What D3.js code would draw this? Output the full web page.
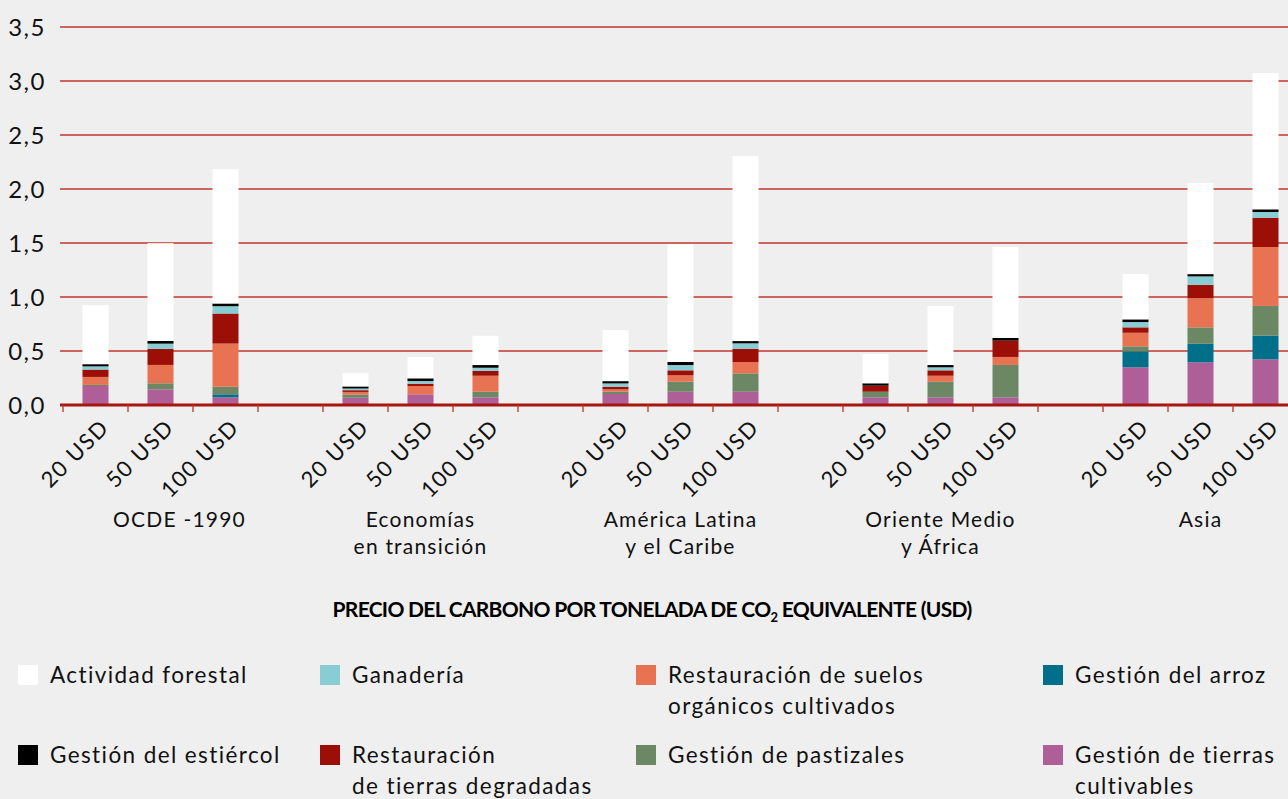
<html>
<head>
    <script src="https://d3js.org/d3.v7.min.js"></script>
    <style>
        body { margin: 0; background: #efefef; }
        svg { display: block; font-family: Lato, "Open Sans", sans-serif; }
    </style>
</head>
<body>
    <svg id="chart" width="1288" height="799"></svg>
    <script>
        // regions and carbon prices (one bar per region x price)
        const regions = ["OCDE -1990", "Economías|en transición", "América Latina|y el Caribe", "Oriente Medio|y África", "Asia"];
        const prices = ["20 USD", "50 USD", "100 USD"];
        const yTicks = [0, 0.5, 1, 1.5, 2, 2.5, 3, 3.5];

        // series values, order: region by region, 20 / 50 / 100 USD
        const tierrasCultivables = [0.176, 0.145, 0.071, 0.068, 0.099, 0.071, 0.102, 0.123, 0.123, 0.071, 0.071, 0.071, 0.349, 0.395, 0.423];
        const arroz = [0, 0, 0.028, 0, 0, 0, 0, 0, 0, 0, 0, 0, 0.148, 0.172, 0.219];
        const pastizales = [0.01, 0.056, 0.07, 0.028, 0, 0.052, 0.021, 0.093, 0.17, 0.052, 0.144, 0.30, 0.046, 0.152, 0.275];
        const suelosOrganicos = [0.074, 0.17, 0.40, 0.025, 0.077, 0.148, 0.022, 0.059, 0.105, 0, 0.056, 0.074, 0.126, 0.271, 0.546];
        const tierrasDegradadas = [0.068, 0.148, 0.278, 0.016, 0.021, 0.046, 0.024, 0.046, 0.123, 0.056, 0.05, 0.151, 0.05, 0.123, 0.271];
        const ganaderia = [0.03, 0.049, 0.068, 0.016, 0.025, 0.028, 0.031, 0.049, 0.05, 0, 0.028, 0, 0.049, 0.078, 0.053];
        const estiercol = [0.02, 0.025, 0.025, 0.019, 0.025, 0.025, 0.021, 0.028, 0.021, 0.022, 0.021, 0.025, 0.025, 0.021, 0.025];
        const forestal = [0.546, 0.905, 1.244, 0.123, 0.197, 0.271, 0.472, 1.092, 1.715, 0.271, 0.546, 0.843, 0.419, 0.843, 1.262];

        const series = [
            {key: "tierras", name: "Gestión de tierras|cultivables", values: tierrasCultivables, color: "#ae5f98"},
            {key: "arroz", name: "Gestión del arroz", values: arroz, color: "#00708a"},
            {key: "pastizales", name: "Gestión de pastizales", values: pastizales, color: "#6b8763"},
            {key: "suelos", name: "Restauración de suelos|orgánicos cultivados", values: suelosOrganicos, color: "#e87352"},
            {key: "degradadas", name: "Restauración|de tierras degradadas", values: tierrasDegradadas, color: "#9b0f06"},
            {key: "ganaderia", name: "Ganadería", values: ganaderia, color: "#88cdd4"},
            {key: "estiercol", name: "Gestión del estiércol", values: estiercol, color: "#000000"},
            {key: "forestal", name: "Actividad forestal", values: forestal, color: "#ffffff"}
        ];

        // legend layout order (rows of four)
        const legendOrder = ["forestal", "ganaderia", "suelos", "arroz", "estiercol", "degradadas", "pastizales", "tierras"];

        const svg = d3.select("#chart");

        // slots: 3 bars per region, one empty slot between regions
        const slots = [];
        const rows = [];
        regions.forEach((r, ri) => {
            if (ri > 0) slots.push("gap" + ri);
            prices.forEach((p, pi) => {
                const id = r + "#" + p;
                slots.push(id);
                const row = {id: id, region: r, price: p};
                series.forEach(s => row[s.key] = s.values[ri * 3 + pi]);
                rows.push(row);
            });
        });

        const x = d3.scaleBand()
            .domain(slots)
            .range([63, 63 + slots.length * 65])
            .paddingInner(0.6)
            .paddingOuter(0.3);

        const y = d3.scaleLinear().domain([0, 3.5]).range([405, 27]);

        // gridlines
        svg.append("g").selectAll("line")
            .data(yTicks.filter(d => d > 0))
            .join("line")
            .attr("x1", 60).attr("x2", 1288)
            .attr("y1", d => y(d)).attr("y2", d => y(d))
            .attr("stroke", "#c0392b")
            .attr("stroke-width", 1.3);

        // y labels
        svg.append("g").selectAll("text")
            .data(yTicks)
            .join("text")
            .attr("x", 46)
            .attr("y", d => y(d))
            .attr("dy", "0.36em")
            .attr("text-anchor", "end")
            .style("font-size", "24px")
            .style("letter-spacing", "1.5px")
            .attr("fill", "#111")
            .text(d => d3.format(".1f")(d).replace(".", ","));

        // bars
        const stack = d3.stack().keys(series.map(s => s.key));
        const stacked = stack(rows);
        const colorOf = {};
        series.forEach(s => colorOf[s.key] = s.color);

        svg.append("g").selectAll("g")
            .data(stacked)
            .join("g")
            .attr("fill", d => colorOf[d.key])
            .selectAll("rect")
            .data(d => d)
            .join("rect")
            .attr("x", d => x(d.data.id))
            .attr("width", x.bandwidth())
            .attr("y", d => y(d[1]))
            .attr("height", d => y(d[0]) - y(d[1]));

        // x axis line and ticks at slot boundaries
        const axis = svg.append("g");
        axis.append("line")
            .attr("x1", 60).attr("x2", 1288)
            .attr("y1", y(0)).attr("y2", y(0))
            .attr("stroke", "#a8170f")
            .attr("stroke-width", 3);
        axis.selectAll("line.tick")
            .data(slots)
            .join("line")
            .attr("class", "tick")
            .attr("x1", d => x(d) - x.step() * x.paddingInner() / 2)
            .attr("x2", d => x(d) - x.step() * x.paddingInner() / 2)
            .attr("y1", y(0)).attr("y2", y(0) + 7)
            .attr("stroke", "#b5362c")
            .attr("stroke-width", 1.3);

        // price labels, rotated
        svg.append("g").selectAll("text")
            .data(rows)
            .join("text")
            .attr("transform", d => `translate(${x(d.id) + x.bandwidth() / 2 + 4},${y(0) + 13}) rotate(-45)`)
            .attr("text-anchor", "end")
            .attr("dy", "0.7em")
            .style("font-size", "22px")
            .style("letter-spacing", "1.5px")
            .attr("fill", "#111")
            .text(d => d.price);

        // region labels (first one sits a little right of its group centre)
        const regionShift = [19, 0, 0, 0, 0];
        const regionLabels = svg.append("g");
        regions.forEach((r, ri) => {
            const cx = x(r + "#" + prices[1]) + x.bandwidth() / 2 + regionShift[ri];
            const t = regionLabels.append("text")
                .attr("x", cx)
                .attr("y", 527)
                .attr("text-anchor", "middle")
                .style("font-size", "21px")
                .style("letter-spacing", "1.2px")
                .attr("fill", "#111");
            r.split("|").forEach((line, i) => {
                t.append("tspan").attr("x", cx).attr("dy", i === 0 ? 0 : 27).text(line);
            });
        });

        // axis title
        const title = svg.append("text")
            .attr("x", 652)
            .attr("y", 617)
            .attr("text-anchor", "middle")
            .style("font-size", "21px")
            .style("font-weight", "bold")
            .style("letter-spacing", "-0.7px")
            .attr("fill", "#000");
        title.append("tspan").text("PRECIO DEL CARBONO POR TONELADA DE CO");
        title.append("tspan").attr("dy", 5).style("font-size", "13px").text("2");
        title.append("tspan").attr("dy", -5).text(" EQUIVALENTE (USD)");

        // legend
        const legendCols = [18, 320, 636, 1043];
        const legendRows = [675, 755];
        const legend = svg.append("g");
        legendOrder.forEach((k, i) => {
            const s = series.find(d => d.key === k);
            const lx = legendCols[i % 4];
            const ly = legendRows[Math.floor(i / 4)];
            legend.append("rect")
                .attr("x", lx).attr("y", ly - 10)
                .attr("width", 20).attr("height", 20)
                .attr("fill", s.color);
            const t = legend.append("text")
                .attr("x", lx + 32)
                .attr("y", ly)
                .style("font-size", "22.5px")
                .style("letter-spacing", "1.4px")
                .attr("fill", "#111");
            s.name.split("|").forEach((line, j) => {
                t.append("tspan").attr("x", lx + 32).attr("dy", j === 0 ? "0.36em" : 31).text(line);
            });
        });
    </script>
</body>
</html>
